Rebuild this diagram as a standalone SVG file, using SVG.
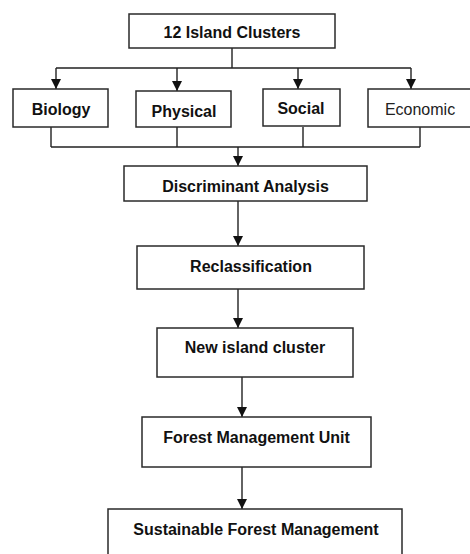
<svg xmlns="http://www.w3.org/2000/svg" width="470" height="554" viewBox="0 0 470 554">
<style>
.box{fill:#fff;stroke:#2a2a2a;stroke-width:1.5}
.t{font-family:"Liberation Sans",Arial,sans-serif;font-size:16px;font-weight:bold;fill:#111;text-anchor:middle}
.n{font-weight:normal;fill:#222}
.c{fill:none;stroke:#222;stroke-width:1.4}
</style>
<defs>
<marker id="ah" markerUnits="userSpaceOnUse" markerWidth="10" markerHeight="12" refX="10" refY="5" orient="auto" viewBox="0 0 10 10">
<path d="M0,0 L10,5 L0,10 Z" fill="#111"/>
</marker>
</defs>
<rect width="470" height="554" fill="#fff"/>
<g id="connectors">
<path class="c" d="M232 48 V68 M56 68 H411"/>
<path class="c" d="M56 68 V89" marker-end="url(#ah)"/>
<path class="c" d="M177 68 V91" marker-end="url(#ah)"/>
<path class="c" d="M298 68 V89" marker-end="url(#ah)"/>
<path class="c" d="M411 68 V89" marker-end="url(#ah)"/>
<path class="c" d="M51 127 V147 M177 127 V147 M303 127 V147 M420 127 V147 M51 147 H420"/>
<path class="c" d="M238 147 V166" marker-end="url(#ah)"/>
<path class="c" d="M238 201 V246" marker-end="url(#ah)"/>
<path class="c" d="M238 289 V328" marker-end="url(#ah)"/>
<path class="c" d="M242 377 V417" marker-end="url(#ah)"/>
<path class="c" d="M242 467 V509" marker-end="url(#ah)"/>
</g>
<g id="clusters"><rect class="box" x="129" y="14" width="206" height="34"/><text class="t" x="232" y="38">12 Island Clusters</text></g>
<g id="biology"><rect class="box" x="13" y="89" width="95" height="38"/><text class="t" x="61" y="115">Biology</text></g>
<g id="physical"><rect class="box" x="136" y="91" width="95" height="36"/><text class="t" x="184" y="117">Physical</text></g>
<g id="social"><rect class="box" x="263" y="89" width="77" height="37"/><text class="t" x="301" y="114">Social</text></g>
<g id="economic"><rect class="box" x="368" y="89" width="104" height="38"/><text class="t n" x="420" y="115">Economic</text></g>
<g id="discriminant"><rect class="box" x="124" y="166" width="243" height="35"/><text class="t" x="245.5" y="192">Discriminant Analysis</text></g>
<g id="reclassification"><rect class="box" x="137" y="246" width="227" height="43"/><text class="t" x="251" y="272">Reclassification</text></g>
<g id="newcluster"><rect class="box" x="157" y="328" width="196" height="49"/><text class="t" x="255" y="353">New island cluster</text></g>
<g id="fmu"><rect class="box" x="142" y="417" width="229" height="50"/><text class="t" x="256.5" y="443">Forest Management Unit</text></g>
<g id="sfm"><rect class="box" x="108" y="509" width="294" height="60"/><text class="t" x="256" y="535">Sustainable Forest Management</text></g>
</svg>
